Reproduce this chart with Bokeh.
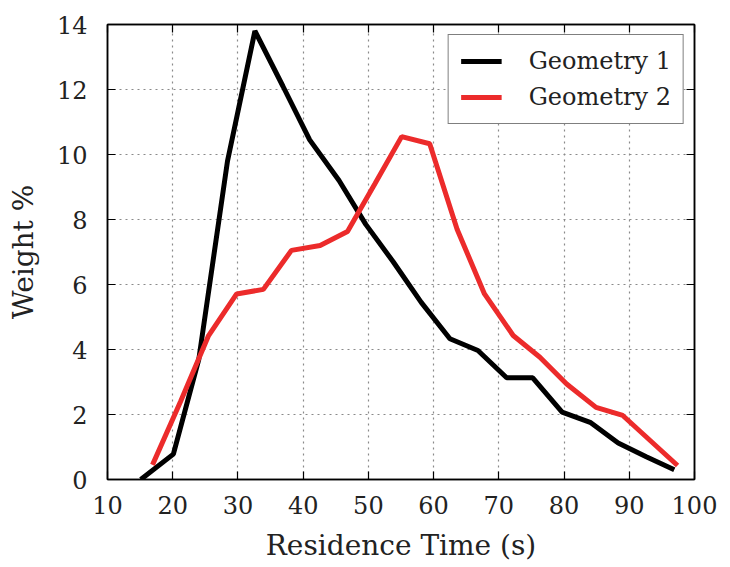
from bokeh.plotting import figure
from bokeh.models import LinearAxis, FixedTicker, Range1d, Legend, LegendItem
from bokeh.embed import file_html
from bokeh.resources import INLINE

# Data
geo1_time = [15.1, 20.1, 24.0, 28.4, 32.6, 36.9, 41.0, 45.5, 49.6, 53.8,
             58.1, 62.5, 66.8, 71.2, 75.2, 79.7, 84.0, 88.3, 92.6, 96.9]
geo1_weight = [0.0, 0.78, 3.7, 9.8, 13.8, 12.1, 10.45, 9.2, 7.85, 6.7,
               5.45, 4.33, 3.97, 3.13, 3.13, 2.07, 1.76, 1.12, 0.7, 0.3]

geo2_time = [16.9, 21.2, 25.5, 29.8, 33.9, 38.2, 42.6, 46.8, 51.0, 55.1,
             59.4, 63.6, 67.8, 72.2, 76.3, 80.4, 84.9, 89.0, 93.2, 97.4]
geo2_weight = [0.45, 2.4, 4.43, 5.71, 5.85, 7.05, 7.2, 7.63, 9.1, 10.55,
               10.33, 7.7, 5.71, 4.43, 3.76, 2.94, 2.22, 1.97, 1.2, 0.43]

x_ticks = [10, 20, 30, 40, 50, 60, 70, 80, 90, 100]
y_ticks = [0, 2, 4, 6, 8, 10, 12, 14]

series_names = ["Geometry 1", "Geometry 2"]
x_label = "Residence Time (s)"
y_label = "Weight %"

FONT = "DejaVu Serif"

p = figure(width=730, height=567, output_backend="svg", toolbar_location=None,
           x_range=Range1d(10, 100), y_range=Range1d(0, 14),
           min_border_left=107, min_border_right=36, min_border_top=24,
           min_border_bottom=88)

p.background_fill_color = "white"
p.border_fill_color = "white"
p.outline_line_color = "black"
p.outline_line_width = 1.5

r1 = p.line(geo1_time, geo1_weight, line_color="black", line_width=5)
r2 = p.line(geo2_time, geo2_weight, line_color="#ec2b2b", line_width=5)

def style_axis(ax, ticks, show_labels):
    ax.ticker = FixedTicker(ticks=ticks)
    ax.axis_line_color = "black"
    ax.axis_line_width = 1.5
    ax.major_tick_in = 8
    ax.major_tick_out = 0
    ax.major_tick_line_color = "black"
    ax.major_tick_line_width = 1.2
    ax.minor_tick_line_color = None
    ax.major_label_text_font = FONT
    if show_labels:
        ax.major_label_text_font_size = "24px"
        ax.major_label_text_color = "#222222"
        ax.axis_label_text_font = FONT
        ax.axis_label_text_font_size = "28px"
        ax.axis_label_text_font_style = "normal"
        ax.axis_label_text_color = "#222222"
    else:
        ax.major_label_text_font_size = "1px"
        ax.major_label_text_color = None
        ax.major_label_standoff = 0

xa = p.xaxis[0]
ya = p.yaxis[0]
style_axis(xa, x_ticks, True)
style_axis(ya, y_ticks, True)
xa.axis_label = x_label
ya.axis_label = y_label
xa.major_label_standoff = 16
xa.axis_label_standoff = 12
ya.major_label_standoff = 20
ya.axis_label_standoff = 14

top_ax = LinearAxis()
style_axis(top_ax, x_ticks, False)
p.add_layout(top_ax, "above")
right_ax = LinearAxis()
style_axis(right_ax, y_ticks, False)
p.add_layout(right_ax, "right")

p.xgrid.ticker = FixedTicker(ticks=x_ticks)
p.ygrid.ticker = FixedTicker(ticks=y_ticks)
for g in (p.xgrid[0], p.ygrid[0]):
    g.grid_line_color = "#8a8a8a"
    g.grid_line_dash = "2 4"
    g.grid_line_width = 1.2

legend = Legend(items=[LegendItem(label=series_names[0], renderers=[r1]),
                       LegendItem(label=series_names[1], renderers=[r2])],
                location="top_right")
legend.margin = 10
legend.padding = 12
legend.spacing = 8
legend.glyph_width = 41
legend.glyph_height = 28
legend.label_height = 28
legend.label_standoff = 27
legend.label_text_font = FONT
legend.label_text_font_size = "24px"
legend.label_text_color = "#222222"
legend.border_line_color = "black"
legend.border_line_width = 1.5
legend.background_fill_alpha = 1.0
p.add_layout(legend, "center")

open("out.html", "w").write(file_html(p, INLINE))
